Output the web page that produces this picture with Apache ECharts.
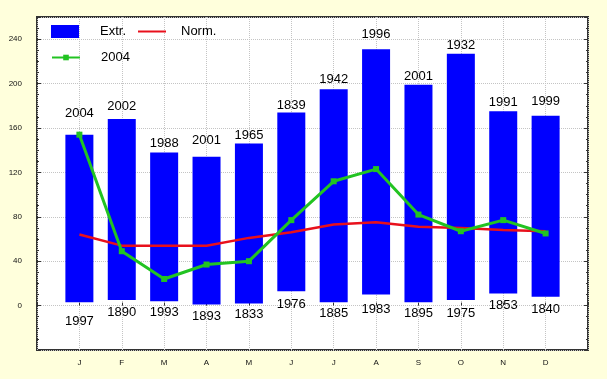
<!DOCTYPE html>
<html>
<head>
<meta charset="utf-8">
<script src="https://cdn.jsdelivr.net/npm/echarts@6/dist/echarts.min.js"></script>
<style>
html,body{margin:0;padding:0;background:#FFFFDC;}
#c{width:607px;height:379px;}
</style>
</head>
<body>
<div id="c"></div>
<script>
// ---- data ----
var months = ['J','F','M','A','M','J','J','A','S','O','N','D'];
var extrMax = [154, 168, 138, 134, 146, 174, 195, 231, 199, 227, 175, 171];
var extrMin = [3, 5, 4, 1, 2, 13, 3, 10, 3, 5, 11, 8];
var maxYears = ['2004','2002','1988','2001','1965','1839','1942','1996','2001','1932','1991','1999'];
var minYears = ['1997','1890','1993','1893','1833','1976','1885','1983','1895','1975','1853','1840'];
var norm = [64, 54, 54, 54, 61, 66, 73, 75, 71, 70, 68, 67];
var y2004 = [154, 49, 24, 37, 40, 77, 112, 123, 82, 67, 77, 65];
var yTickLabels = [0, 40, 80, 120, 160, 200, 240];

// ---- label style offsets (layout only) ----
var topLabelDy = [-13, -4, 0, -8, 0, 1, -1, -6, 0, 0, 0, -6];
var botLabelDy = [8, 1, 0, 0, 0, 2, 0, 3, 0, 2, 1, 1];

function pad(arr) { return ['-'].concat(arr).concat(['-']); }
var cats = [''].concat(months).concat(['']);

var baseData = ['-'].concat(extrMin.map(function (v, i) {
  return { value: v, label: { offset: [0, botLabelDy[i]] } };
})).concat(['-']);
var spanData = ['-'].concat(extrMax.map(function (v, i) {
  return { value: v - extrMin[i], label: { offset: [0, topLabelDy[i]] } };
})).concat(['-']);

var font = 'Liberation Sans, Arial, sans-serif';
var chart = echarts.init(document.getElementById('c'), null, { renderer: 'canvas' });
chart.setOption({
  backgroundColor: '#FFFFDC',
  animation: false,
  grid: {
    left: 37, right: 19, top: 17, bottom: 29,
    show: true, backgroundColor: '#ffffff',
    borderColor: '#333333', borderWidth: 2
  },
  legend: [
    {
      data: [
        { name: 'Extr.', icon: 'rect' },
        { name: 'Norm.', itemStyle: { color: 'rgba(0,0,0,0)', borderWidth: 0 },
          textStyle: { padding: [0, 0, 0, 10] } }
      ],
      left: 51, top: 25, orient: 'horizontal', padding: 0,
      itemWidth: 28, itemHeight: 13, itemGap: 11,
      textStyle: { fontFamily: font, fontSize: 13, color: '#000', padding: [0, 0, 0, 16] }
    },
    {
      data: ['2004'],
      left: 51, top: 51, padding: 0,
      itemWidth: 28, itemHeight: 7,
      textStyle: { fontFamily: font, fontSize: 13, color: '#000', padding: [0, 0, 0, 16] }
    }
  ],
  xAxis: {
    type: 'category',
    data: cats,
    boundaryGap: false,
    axisLine: { show: false },
    axisTick: { show: true, inside: true, length: 3, lineStyle: { color: '#333' } },
    axisLabel: {
      fontFamily: font, fontSize: 8, color: '#111', margin: 9,
      interval: 0
    },
    splitLine: { show: true, lineStyle: { color: '#c4c4c4', type: 'dotted', width: 1 } }
  },
  yAxis: [
    {
      type: 'value', min: -40, max: 260, interval: 40,
      axisLine: { show: false },
      axisTick: { show: true, inside: true, length: 4, lineStyle: { color: '#333' } },
      minorTick: { show: true, splitNumber: 4, length: 2, lineStyle: { color: '#333' } },
      axisLabel: {
        fontFamily: font, fontSize: 8, color: '#111', margin: 15,
        formatter: function (v) { return yTickLabels.indexOf(v) >= 0 ? String(v) : ''; }
      },
      splitLine: { show: true, lineStyle: { color: '#c4c4c4', type: 'dotted', width: 1 } }
    },
    {
      type: 'value', min: -40, max: 260, interval: 40, position: 'right',
      axisLine: { show: false },
      axisTick: { show: true, inside: true, length: 4, lineStyle: { color: '#333' } },
      minorTick: { show: true, splitNumber: 4, length: 2, lineStyle: { color: '#333' } },
      axisLabel: { show: false },
      splitLine: { show: false }
    }
  ],
  series: [
    {
      name: 'base', type: 'bar', stack: 'extr', barWidth: 28,
      itemStyle: { color: 'rgba(0,0,0,0)' },
      silent: true,
      data: baseData,
      label: {
        show: true, position: 'insideTop', distance: 5,
        fontFamily: font, fontSize: 13, color: '#000',
        formatter: function (p) { return minYears[p.dataIndex - 1]; }
      }
    },
    {
      name: 'Extr.', type: 'bar', stack: 'extr', barWidth: 28,
      itemStyle: { color: '#0000FF' },
      data: spanData,
      label: {
        show: true, position: 'top', distance: 2,
        fontFamily: font, fontSize: 13, color: '#000',
        formatter: function (p) { return maxYears[p.dataIndex - 1]; }
      }
    },
    {
      name: 'Norm.', type: 'line', symbol: 'none',
      lineStyle: { color: '#E8101C', width: 2.5 },
      itemStyle: { color: '#E8101C' },
      data: pad(norm), z: 3
    },
    {
      name: '2004', type: 'line', symbol: 'rect', symbolSize: 6,
      lineStyle: { color: '#22C322', width: 3 },
      itemStyle: { color: '#22C322' },
      data: pad(y2004), z: 4
    }
  ]
});
</script>
</body>
</html>
